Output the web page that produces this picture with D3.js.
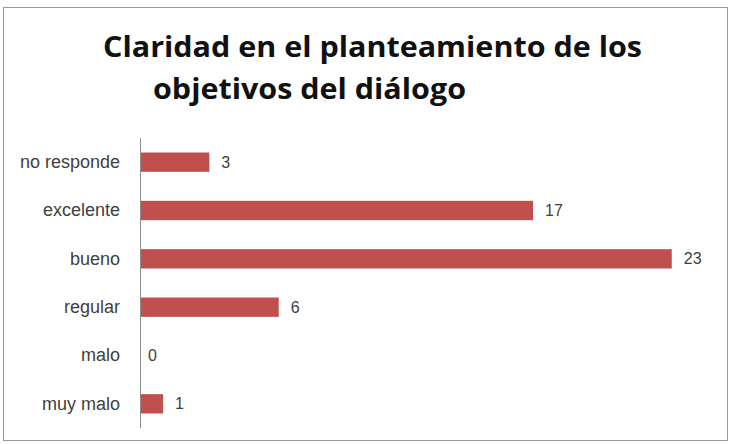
<!DOCTYPE html>
<html>
<head>
<meta charset="utf-8">
<script src="https://cdn.jsdelivr.net/npm/d3@7"></script>
<style>
  html, body { margin: 0; padding: 0; background: #ffffff; }
  svg { display: block; }
</style>
</head>
<body>
<svg id="chart" width="730" height="444"></svg>
<script>
// ---- data ----
const titleLines = ["Claridad en el planteamiento de los", "objetivos del diálogo"];
const categories = ["no responde", "excelente", "bueno", "regular", "malo", "muy malo"];
const values = [3, 17, 23, 6, 0, 1];
const xDomain = [0, 25];

// ---- layout ----
const W = 730, H = 444;
const plot = { left: 140, right: 718, top: 138, bottom: 428 };
const svg = d3.select("#chart");

svg.append("rect").attr("width", W).attr("height", H).attr("fill", "#ffffff");

// outer border
svg.append("rect")
  .attr("x", 3.5).attr("y", 7.5)
  .attr("width", 724).attr("height", 433)
  .attr("fill", "none")
  .attr("stroke", "#9a9a9a")
  .attr("stroke-width", 1);

// title
const titleFont = "'Open Sans', 'Liberation Sans', Arial, sans-serif";
const titlePos = [{ x: 103, y: 57, len: 539 }, { x: 153, y: 99, len: 313 }];
svg.append("g").selectAll("text")
  .data(titleLines)
  .join("text")
  .attr("x", (d, i) => titlePos[i].x)
  .attr("y", (d, i) => titlePos[i].y)
  .attr("textLength", (d, i) => titlePos[i].len)
  .attr("lengthAdjust", "spacingAndGlyphs")
  .attr("font-family", titleFont)
  .attr("font-weight", "bold")
  .attr("font-size", 28)
  .attr("fill", "#111111")
  .text(d => d);

// scales
const x = d3.scaleLinear().domain(xDomain).range([plot.left, plot.right]);
const y = d3.scaleBand().domain(categories).range([plot.top, plot.bottom])
  .paddingInner(0.6).paddingOuter(0.3);

// bars
svg.append("g").selectAll("rect")
  .data(categories.map((c, i) => ({ c, v: values[i] })))
  .join("rect")
  .attr("x", x(0))
  .attr("y", d => y(d.c))
  .attr("width", d => x(d.v) - x(0))
  .attr("height", y.bandwidth())
  .attr("fill", "#c0504d");

// value labels
svg.append("g").selectAll("text")
  .data(categories.map((c, i) => ({ c, v: values[i] })))
  .join("text")
  .attr("x", d => x(d.v) + (d.v === 0 ? 8 : 12))
  .attr("y", d => y(d.c) + y.bandwidth() / 2)
  .attr("dy", "0.35em")
  .attr("font-family", "'Liberation Sans', Arial, sans-serif")
  .attr("font-size", 16)
  .attr("fill", "#404040")
  .text(d => d.v);

// category axis
const yAxis = d3.axisLeft(y).tickSize(0).tickPadding(20);
const gy = svg.append("g").attr("transform", `translate(${plot.left},0)`).call(yAxis);
gy.select(".domain").attr("stroke", "#8c8c8c").attr("d", `M0.5,${plot.top}V${plot.bottom}`);
gy.selectAll(".tick text")
  .attr("font-family", "'Liberation Sans', Arial, sans-serif")
  .attr("font-size", 18)
  .attr("fill", "#404040");
</script>
</body>
</html>
